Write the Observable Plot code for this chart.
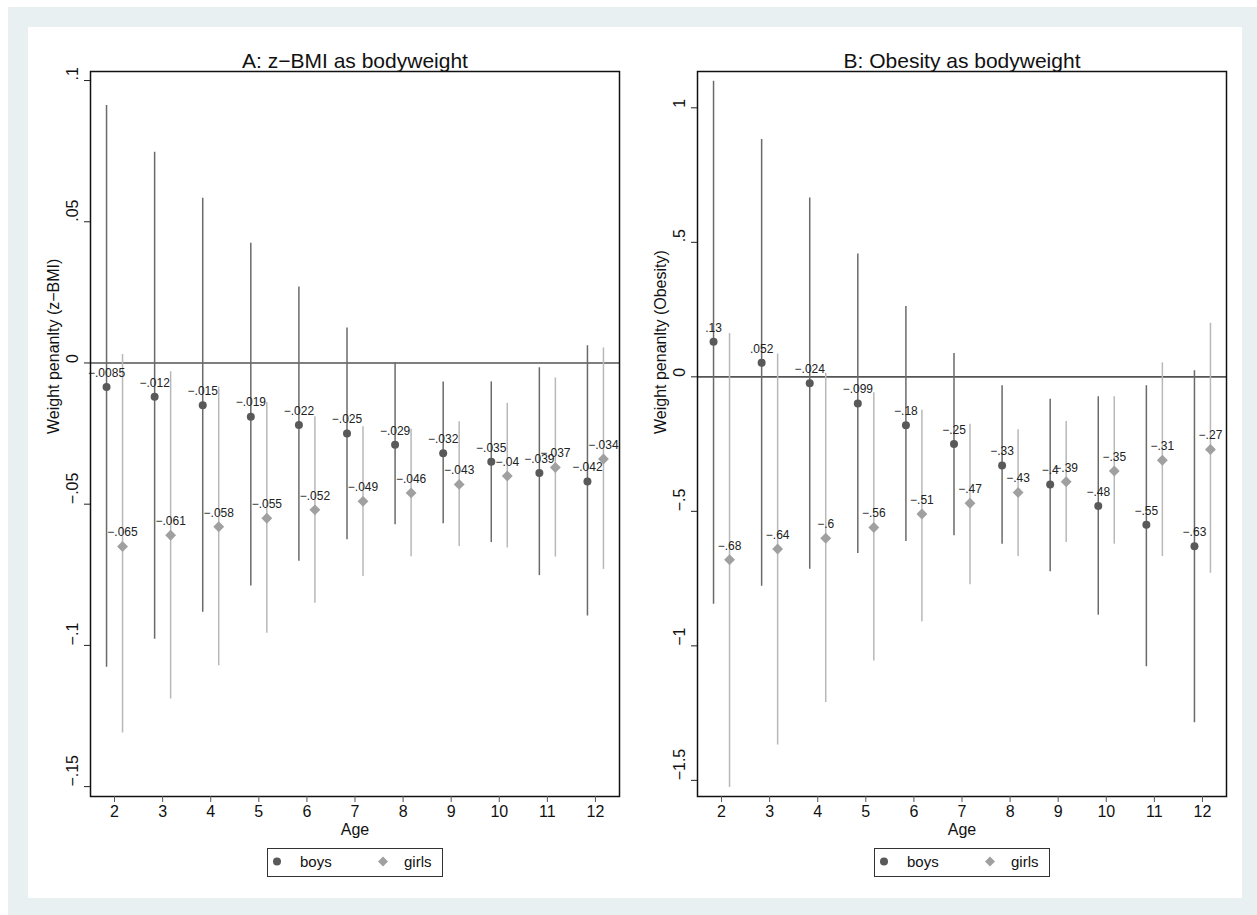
<!DOCTYPE html>
<html><head><meta charset="utf-8">
<script src="https://cdn.jsdelivr.net/npm/d3@7"></script>
<script src="https://cdn.jsdelivr.net/npm/@observablehq/plot@0.6"></script>
<style>
body{margin:0;background:#fff;font-family:"Liberation Sans",Arial,sans-serif;}
#outer{position:absolute;left:8px;top:7px;width:1249px;height:908px;background:#e8f0f2;}
#inner{position:absolute;left:28px;top:27px;width:1214px;height:871px;background:#fff;}
.panel{position:absolute;top:0;}
.legend{position:absolute;top:848px;height:29px;border:1.5px solid #333;box-sizing:border-box;background:#fff;}
.legend svg{display:block;}
</style></head><body>
<div id="outer"></div><div id="inner"></div>
<div id="left" class="panel" style="left:0px"></div>
<div id="right" class="panel" style="left:607px"></div>
<script>
// ---- data ----
const ages = [2, 3, 4, 5, 6, 7, 8, 9, 10, 11, 12];
const series = ["boys", "girls"];

// Panel A: z-BMI
const zBoys   = [-0.0085, -0.012, -0.015, -0.019, -0.022, -0.025, -0.029, -0.032, -0.035, -0.039, -0.042];
const zBoysLo = [-0.1077, -0.0978, -0.0883, -0.0790, -0.0702, -0.0626, -0.0573, -0.0569, -0.0636, -0.0753, -0.0896];
const zBoysHi = [0.0912, 0.0746, 0.0583, 0.0424, 0.0269, 0.0124, 0.0000, -0.0067, -0.0067, -0.0017, 0.0061];
const zGirls   = [-0.065, -0.061, -0.058, -0.055, -0.052, -0.049, -0.046, -0.043, -0.040, -0.037, -0.034];
const zGirlsLo = [-0.1310, -0.1190, -0.1072, -0.0957, -0.0851, -0.0756, -0.0686, -0.0650, -0.0655, -0.0687, -0.0731];
const zGirlsHi = [0.0030, -0.0031, -0.0086, -0.0140, -0.0190, -0.0226, -0.0235, -0.0208, -0.0143, -0.0053, 0.0053];
const zTicks = [0.1, 0.05, 0, -0.05, -0.1, -0.15];

// Panel B: Obesity
const oBoys   = [0.13, 0.052, -0.024, -0.099, -0.18, -0.25, -0.33, -0.40, -0.48, -0.55, -0.63];
const oBoysLo = [-0.845, -0.778, -0.715, -0.657, -0.612, -0.591, -0.622, -0.725, -0.886, -1.078, -1.286];
const oBoysHi = [1.099, 0.882, 0.665, 0.457, 0.261, 0.087, -0.033, -0.083, -0.074, -0.033, 0.023];
const oGirls   = [-0.68, -0.64, -0.60, -0.56, -0.51, -0.47, -0.43, -0.39, -0.35, -0.31, -0.27];
const oGirlsLo = [-1.527, -1.369, -1.211, -1.056, -0.910, -0.773, -0.668, -0.616, -0.622, -0.668, -0.730];
const oGirlsHi = [0.161, 0.085, 0.013, -0.059, -0.124, -0.176, -0.197, -0.166, -0.074, 0.052, 0.199];
const oTicks = [1, 0.5, 0, -0.5, -1, -1.5];

// ---- style ----
const FONT = '"Liberation Sans", Arial, sans-serif';
const BOY = "#595959", BOY_LINE = "#6a6a6a";
const GIRL = "#a0a0a0", GIRL_LINE = "#b8b8b8";

function fmt(v) {
  let s = String(v).replace(/^(-?)0\./, "$1.");
  return s.replace("-", "\u2212");
}

function panel(o) {
  const rows = (est, lo, hi, sex) => ages.map((a, i) => ({age: a, est: est[i], lo: lo[i], hi: hi[i], sex}));
  const B = rows(o.boys, o.boysLo, o.boysHi, series[0]);
  const G = rows(o.girls, o.girlsLo, o.girlsHi, series[1]);
  return Plot.plot({
    width: 640, height: 900,
    marginLeft: 90, marginRight: 21, marginTop: 71, marginBottom: 104,
    style: {background: "transparent", fontFamily: FONT, color: "#111", overflow: "visible"},
    x: {domain: [1.5, 12.5]},
    y: {domain: o.domain},
    marks: [
      Plot.ruleY([0], {stroke: "#555", strokeWidth: 1.6}),
      Plot.ruleX(B, {x: "age", y1: "lo", y2: "hi", dx: -8, stroke: BOY_LINE, strokeWidth: 1.5}),
      Plot.ruleX(G, {x: "age", y1: "lo", y2: "hi", dx: 8, stroke: GIRL_LINE, strokeWidth: 1.5}),
      Plot.dot(B, {x: "age", y: "est", dx: -8, r: 4, fill: BOY, symbol: "circle"}),
      Plot.dot(G, {x: "age", y: "est", dx: 8, r: 4.9, fill: GIRL, symbol: "diamond2"}),
      Plot.text(B, {x: "age", y: "est", dx: -8, dy: -14, text: d => fmt(d.est), fontSize: 12, fill: "#222"}),
      Plot.text(G, {x: "age", y: "est", dx: 8, dy: -14, text: d => fmt(d.est), fontSize: 12, fill: "#222"}),
      Plot.frame({stroke: "#111", strokeWidth: 1.5}),
      Plot.axisX({ticks: ages, tickSize: 6, tickPadding: 3, fontSize: 16, label: null, stroke: "#555", fill: "#111"}),
      Plot.axisY({ticks: o.ticks, tickSize: 6, tickFormat: () => "", label: null, stroke: "#222"}),
      Plot.text(o.ticks, {y: d => d, text: d => fmt(d), frameAnchor: "left", rotate: -90, dx: -18, fontSize: 16, fill: "#111"}),
      Plot.text([o.ylab], {text: d => d, frameAnchor: "left", rotate: -90, dx: -37, fontSize: 16, fill: "#111"}),
      Plot.text(["Age"], {text: d => d, frameAnchor: "bottom", dy: 38, fontSize: 16, fill: "#111"}),
      Plot.text([o.title], {text: d => d, frameAnchor: "top", dy: -18, fontSize: 21, fill: "#111"})
    ]
  });
}

function legend(left) {
  const div = document.createElement("div");
  div.className = "legend";
  div.style.left = left + "px";
  div.style.width = "176px";
  div.innerHTML =
    `<svg width="173" height="26" style="font-family:${FONT.replace(/"/g, "'")};font-size:15px">
      <circle cx="9" cy="12.5" r="4" fill="${BOY}"></circle>
      <text x="32" y="17.5" fill="#111">${series[0]}</text>
      <path d="M115,7.5 L120,12.5 L115,17.5 L110,12.5 Z" fill="${GIRL}"></path>
      <text x="136" y="17.5" fill="#111">${series[1]}</text>
    </svg>`;
  document.body.appendChild(div);
}

document.getElementById("left").appendChild(panel({
  title: "A: z\u2212BMI as bodyweight", ylab: "Weight penanlty (z\u2212BMI)",
  domain: [-0.1535, 0.1032], ticks: zTicks,
  boys: zBoys, boysLo: zBoysLo, boysHi: zBoysHi, girls: zGirls, girlsLo: zGirlsLo, girlsHi: zGirlsHi
}));
document.getElementById("right").appendChild(panel({
  title: "B: Obesity as bodyweight", ylab: "Weight penanlty (Obesity)",
  domain: [-1.56, 1.135], ticks: oTicks,
  boys: oBoys, boysLo: oBoysLo, boysHi: oBoysHi, girls: oGirls, girlsLo: oGirlsLo, girlsHi: oGirlsHi
}));
legend(267);
legend(874);
</script>
</body></html>
